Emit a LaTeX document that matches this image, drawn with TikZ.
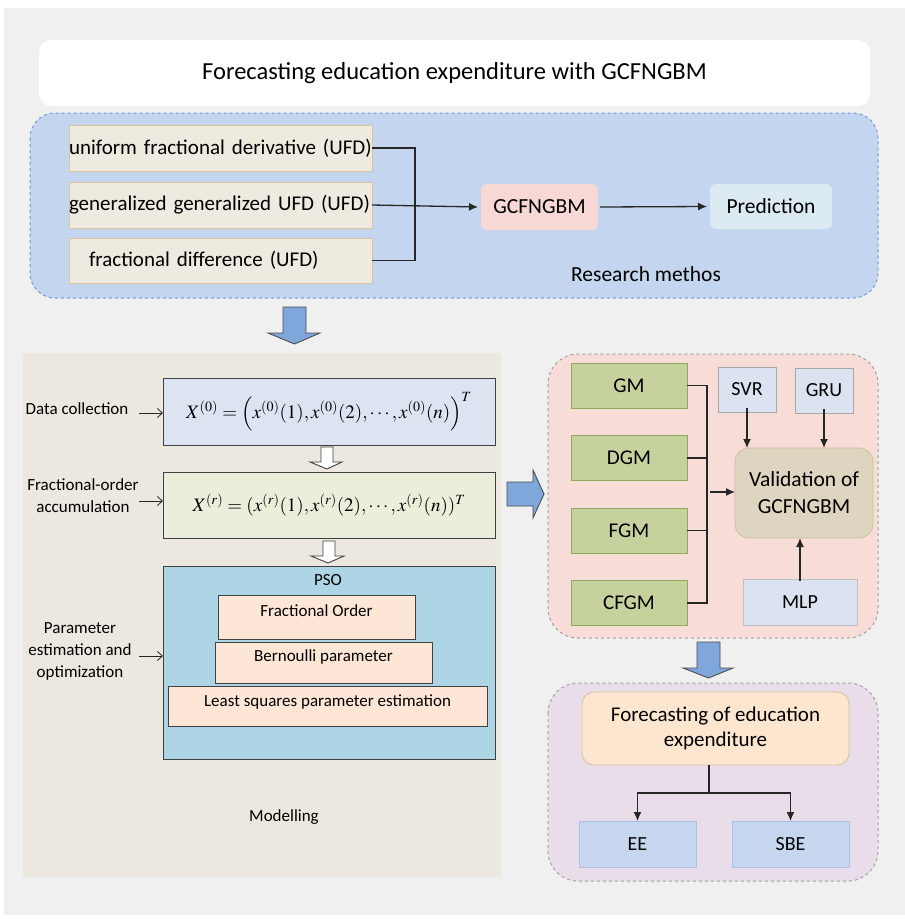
\documentclass[tikz,border=0pt]{standalone}
\usepackage{mathptmx}
\usepackage[no-math]{fontspec}
\setmainfont{Carlito}
\usetikzlibrary{arrows.meta}
\definecolor{bggray}{HTML}{F0F0F0}
\definecolor{bluepanel}{HTML}{C4D5EF}
\definecolor{bluedash}{HTML}{6E9BD6}
\definecolor{beige}{HTML}{EEEAE0}
\definecolor{tan}{HTML}{D9C49C}
\definecolor{pinkbox}{HTML}{F7D8D5}
\definecolor{predbox}{HTML}{DCEAF2}
\definecolor{leftpanel}{HTML}{ECE8E0}
\definecolor{fone}{HTML}{DCE3F1}
\definecolor{ftwo}{HTML}{ECEEDC}
\definecolor{psoblue}{HTML}{ADD5E5}
\definecolor{peach}{HTML}{FDE6D5}
\definecolor{pinkpanel}{HTML}{F8DCD8}
\definecolor{greenbox}{HTML}{C5D29E}
\definecolor{greenline}{HTML}{8FAA5C}
\definecolor{lightbox}{HTML}{DBE3F0}
\definecolor{valbox}{HTML}{DDD5C0}
\definecolor{valline}{HTML}{CFC29F}
\definecolor{purplepanel}{HTML}{E8DDE9}
\definecolor{fcbox}{HTML}{FDE6D0}
\definecolor{eebox}{HTML}{C6D6EE}
\definecolor{eeline}{HTML}{A8C1E6}
\definecolor{arrowblue}{HTML}{7FA7DC}
\definecolor{dashgray}{HTML}{A0A0A0}
\begin{document}
\begin{tikzpicture}[x=1pt,y=-1pt,
  every node/.style={inner sep=0pt, outer sep=0pt},
  ufdbox/.style={draw=tan, fill=beige, line width=0.8pt, minimum width=303pt, minimum height=46pt, text width=303pt, align=left, font=\fontsize{21}{25}\selectfont},
  softbox/.style={rounded corners=6pt, minimum height=46pt, font=\fontsize{21.5}{25}\selectfont},
  fbox/.style={draw=black!75, line width=1pt, minimum width=332pt},
  peachbox/.style={draw=black!75, fill=peach, line width=0.9pt},
  lbl/.style={font=\fontsize{17}{22}\selectfont, align=center},
  greenb/.style={draw=greenline, fill=greenbox, line width=0.9pt, minimum width=116pt, minimum height=45pt, font=\fontsize{21}{25}\selectfont},
  smallb/.style={draw=black!35, fill=lightbox, line width=0.9pt, minimum height=45pt, font=\fontsize{20}{24}\selectfont},
  eeb/.style={draw=eeline, fill=eebox, line width=0.8pt, minimum width=117pt, minimum height=46pt, font=\fontsize{20}{24}\selectfont},
  conn/.style={draw=black!85, line width=1.3pt},
  blockarrow/.style={fill=arrowblue, draw=black!70, line width=0.9pt, line join=miter},
  hollowarrow/.style={fill=white, draw=black!75, line width=0.9pt},
  thinarrow/.style={draw=black!85, line width=0.8pt, -{Straight Barb[length=5pt,width=9pt]}}
]
\useasboundingbox (0,0) rectangle (905,919);
\fill[white] (0,0) rectangle (905,919);
\fill[bggray] (4,8) rectangle (905,915);

% title
\node[fill=white, rounded corners=12pt, minimum width=831pt, minimum height=66pt, font=\fontsize{24.5}{28}\selectfont] (title) at (454.5,73) {Forecasting education expenditure with GCFNGBM};

% research methods panel
\draw[bluedash, fill=bluepanel, dashed, line width=1pt, rounded corners=25pt] (30,113) rectangle (878,298);
\node[ufdbox] (ufd1) at (220.5,148) {uniform fractional derivative (UFD)};
\node[ufdbox] (ufd2) at (220.5,205) {generalized generalized UFD (UFD)};
\node[ufdbox, minimum height=45pt] (ufd3) at (220.5,260.5) {\hspace*{20pt}fractional difference (UFD)};
\node[softbox, fill=pinkbox, minimum width=117pt] (gcf) at (539.5,207) {GCFNGBM};
\node[softbox, fill=predbox, minimum width=122pt, minimum height=45pt] (pred) at (771,206.5) {Prediction};
\node[font=\fontsize{21.5}{25}\selectfont] (rm) at (646,274) {Research methos};
\coordinate (j1) at (415,205);
\draw[conn] (ufd1.east) -| (j1);
\draw[conn] (ufd3.east) -| (j1);
\draw[conn, -{Latex[length=9pt,width=8pt]}] (ufd2.east) -- ([xshift=-3pt]gcf.west);
\draw[conn, -{Latex[length=9pt,width=8pt]}] ([xshift=2pt]gcf.east) -- ([xshift=-3pt]pred.west);

% block arrow down 1
\draw[blockarrow] (283,307) -- (306,307) -- (306,333) -- (320,333) -- (294.5,344) -- (268,333) -- (283,333) -- cycle;

% modelling panel
\fill[leftpanel] (23,353) rectangle (501,877);
\node[fbox, fill=fone, minimum height=67pt, font=\fontsize{19}{23}\selectfont] (f1) at (329,411.5)
  {$X^{(0)}=\left(x^{(0)}(1),x^{(0)}(2),\cdots,x^{(0)}(n)\right)^{T}$};
\node[fbox, fill=ftwo, minimum height=66pt, font=\fontsize{19}{23}\selectfont] (f2) at (329,505)
  {$X^{(r)}=(x^{(r)}(1),x^{(r)}(2),\cdots,x^{(r)}(n))^{T}$};
\node[fbox, fill=psoblue, minimum height=193pt] (pso) at (329,662.5) {};
\node[lbl] (psot) at (328,580) {PSO};
\node[peachbox, minimum width=197pt, minimum height=44pt] (fo) at (316.5,617) {};
\node[lbl] (fot) at (316.5,611) {Fractional Order};
\node[peachbox, minimum width=217pt, minimum height=41pt] (bp) at (323.5,662.5) {};
\node[lbl] (bpt) at (323.5,657) {Bernoulli parameter};
\node[peachbox, minimum width=319pt, minimum height=40pt] (ls) at (327.5,706) {};
\node[lbl] (lst) at (327.5,702) {Least squares parameter estimation};
\node[lbl] (mod) at (284,817) {Modelling};

% hollow arrows
\draw[hollowarrow] (321,447) -- (333,447) -- (333,462) -- (342,462) -- (327,469) -- (310,462) -- (321,462) -- cycle;
\draw[hollowarrow] (323,541) -- (335,541) -- (335,556) -- (344,556) -- (328,563) -- (311,556) -- (323,556) -- cycle;

% left labels
\node[lbl] (dc) at (77,409) {Data collection};
\node[lbl, align=center] (fa) at (83,496) {Fractional-order\\accumulation};
\node[lbl, align=center, text depth=0pt] (pe) at (80,650) {Parameter\\estimation and\\optimization};
\draw[thinarrow] (139,413) -- (f1.west |- 0,413);
\draw[thinarrow] (139,501) -- (f2.west |- 0,501);
\draw[thinarrow] (139,656) -- (pso.west |- 0,656);

% block arrow right
\draw[blockarrow] (507,482) -- (533,482) -- (533,470) -- (544,494) -- (533,518) -- (533,506) -- (507,506) -- cycle;

% validation panel
\draw[dashgray, fill=pinkpanel, dashed, line width=1pt, rounded corners=30pt] (548,354) rectangle (878,638);
\node[greenb] (gm) at (629,385.5) {GM};
\node[greenb] (dgm) at (629,458) {DGM};
\node[greenb] (fgm) at (629,530.5) {FGM};
\node[greenb] (cfgm) at (629,603) {CFGM};
\node[smallb, minimum width=58pt] (svr) at (747,389.5) {SVR};
\node[smallb, minimum width=58pt] (gru) at (824,390.5) {GRU};
\node[draw=valline, fill=valbox, line width=0.9pt, rounded corners=14pt, minimum width=138pt, minimum height=90pt, align=center, font=\fontsize{21.5}{27}\selectfont] (val) at (804,493) {Validation of\\GCFNGBM};
\node[smallb, draw=black!25, minimum width=114pt, minimum height=46pt] (mlp) at (800,602) {MLP};
\coordinate (j2) at (707,492);
\draw[conn] (gm.east) -| (j2);
\draw[conn] (cfgm.east) -| (j2);
\draw[conn] (dgm.east) -- (dgm.east -| j2);
\draw[conn] (fgm.east) -- (fgm.east -| j2);
\draw[conn, -{Latex[length=9pt,width=8pt]}] ([xshift=3pt]j2) -- (val.west |- j2);
\draw[conn, -{Latex[length=9pt,width=8pt]}] ([yshift=4pt]svr.south) -- (svr.south |- val.north);
\draw[conn, -{Latex[length=9pt,width=8pt]}] ([yshift=4pt]gru.south) -- (gru.south |- val.north);
\draw[conn, -{Latex[length=9pt,width=8pt]}] ([yshift=-2pt]mlp.north) -- (mlp.north |- val.south);

% block arrow down 2
\draw[blockarrow] (697,642) -- (720,642) -- (720,668) -- (733,668) -- (708.5,678) -- (683,668) -- (697,668) -- cycle;

% forecasting panel
\draw[dashgray, fill=purplepanel, dashed, line width=1pt, rounded corners=30pt] (548,683) rectangle (878,881);
\node[draw=tan, fill=fcbox, line width=0.9pt, rounded corners=12pt, minimum width=267pt, minimum height=73pt, align=center, font=\fontsize{21}{25}\selectfont] (fc) at (715.5,728.5) {Forecasting of education\\expenditure};
\node[eeb] (ee) at (637.5,844) {EE};
\node[eeb] (sbe) at (790.5,844) {SBE};
\coordinate (sp) at (709,793);
\draw[conn] (sp |- fc.south) -- (sp);
\draw[conn, -{Latex[length=9pt,width=8pt]}] (sp) -| (ee.north);
\draw[conn, -{Latex[length=9pt,width=8pt]}] (sp) -| (sbe.north);
\end{tikzpicture}
\end{document}
